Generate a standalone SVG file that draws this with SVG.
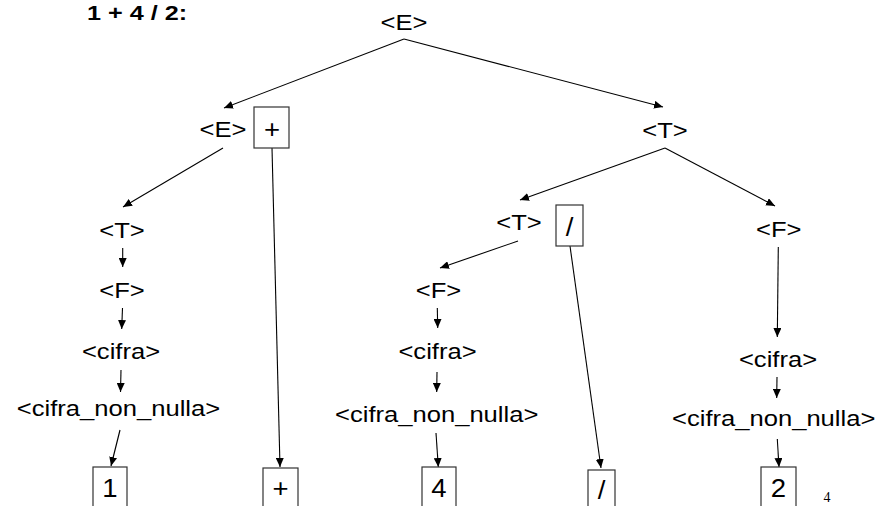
<svg xmlns="http://www.w3.org/2000/svg" width="879" height="506" viewBox="0 0 879 506">
<style>
.l{font-family:"Liberation Sans",Arial,sans-serif;font-size:21.5px;fill:#000;text-anchor:middle}
.b{font-family:"Liberation Sans",Arial,sans-serif;font-size:25px;fill:#000;text-anchor:middle}
.t{font-family:"Liberation Sans",Arial,sans-serif;font-size:21px;font-weight:bold;fill:#000}
.n{font-family:"Liberation Serif","Times New Roman",serif;font-size:14px;fill:#000;text-anchor:middle}
.box{fill:none;stroke:#333;stroke-width:1.2}
.c line{stroke:#000;stroke-width:1.1;marker-end:url(#ah)}
</style>
<defs>
<marker id="ah" markerUnits="userSpaceOnUse" markerWidth="10" markerHeight="8" refX="9" refY="4" orient="auto">
<path d="M0,0 L9,4 L0,8 Z" fill="#000"/>
</marker>
</defs>
<rect width="879" height="506" fill="#fff"/>
<text class="t" transform="translate(87,20) scale(1.2 1)">1 + 4 / 2:</text>
<g class="c" id="connectors">
<line x1="404" y1="39" x2="224" y2="108"/>
<line x1="404" y1="39" x2="663" y2="107"/>
<line x1="223" y1="148" x2="123" y2="207"/>
<line x1="272" y1="148" x2="280" y2="467"/>
<line x1="122.7" y1="248" x2="122.7" y2="267"/>
<line x1="122.5" y1="308" x2="121.7" y2="329"/>
<line x1="121" y1="370" x2="120.5" y2="392"/>
<line x1="120" y1="430" x2="111" y2="466"/>
<line x1="665" y1="148" x2="520" y2="200"/>
<line x1="665" y1="148" x2="775" y2="206"/>
<line x1="518" y1="241" x2="440" y2="268"/>
<line x1="570" y1="246" x2="601" y2="468"/>
<line x1="437.3" y1="308" x2="437.7" y2="328"/>
<line x1="437" y1="372" x2="436.7" y2="392"/>
<line x1="436" y1="433" x2="438.3" y2="467"/>
<line x1="778.3" y1="247" x2="777.3" y2="337"/>
<line x1="777" y1="377" x2="776.7" y2="398"/>
<line x1="777.3" y1="439" x2="779" y2="467"/>
</g>
<g id="E_root"><text class="l" transform="translate(404,29.5) scale(1.19 1)">&lt;E&gt;</text></g>
<g id="E_left"><text class="l" transform="translate(223,137) scale(1.19 1)">&lt;E&gt;</text></g>
<g id="plus_top"><rect class="box" x="254" y="107" width="35" height="41"/><text class="b" transform="translate(272,138) scale(1.1 1)">+</text></g>
<g id="T_right"><text class="l" transform="translate(665,137.5) scale(1.19 1)">&lt;T&gt;</text></g>
<g id="T_left"><text class="l" transform="translate(122,238) scale(1.19 1)">&lt;T&gt;</text></g>
<g id="F_left"><text class="l" transform="translate(122,298) scale(1.19 1)">&lt;F&gt;</text></g>
<g id="cifra_left"><text class="l" transform="translate(121,359) scale(1.19 1)">&lt;cifra&gt;</text></g>
<g id="cnn_left"><text class="l" transform="translate(118.5,416) scale(1.19 1)">&lt;cifra_non_nulla&gt;</text></g>
<g id="one"><rect class="box" x="93" y="467" width="34" height="50"/><text class="b" transform="translate(110,497) scale(1.1 1)">1</text></g>
<g id="plus_leaf"><rect class="box" x="263" y="468" width="35" height="50"/><text class="b" transform="translate(280.5,497) scale(1.1 1)">+</text></g>
<g id="T_mid"><text class="l" transform="translate(519,230) scale(1.19 1)">&lt;T&gt;</text></g>
<g id="slash_top"><rect class="box" x="556" y="205" width="27" height="41"/><text class="b" transform="translate(569.5,236) scale(1.1 1)">/</text></g>
<g id="F_mid"><text class="l" transform="translate(438.5,297.5) scale(1.19 1)">&lt;F&gt;</text></g>
<g id="cifra_mid"><text class="l" transform="translate(437.5,359) scale(1.19 1)">&lt;cifra&gt;</text></g>
<g id="cnn_mid"><text class="l" transform="translate(436.7,422) scale(1.19 1)">&lt;cifra_non_nulla&gt;</text></g>
<g id="four"><rect class="box" x="422" y="467" width="34" height="50"/><text class="b" transform="translate(439,497) scale(1.1 1)">4</text></g>
<g id="slash_leaf"><rect class="box" x="588" y="470" width="27" height="50"/><text class="b" transform="translate(601.5,499) scale(1.1 1)">/</text></g>
<g id="F_right"><text class="l" transform="translate(778.7,236.7) scale(1.19 1)">&lt;F&gt;</text></g>
<g id="cifra_right"><text class="l" transform="translate(778,366.5) scale(1.19 1)">&lt;cifra&gt;</text></g>
<g id="cnn_right"><text class="l" transform="translate(773.7,426) scale(1.19 1)">&lt;cifra_non_nulla&gt;</text></g>
<g id="two"><rect class="box" x="761" y="467" width="35" height="50"/><text class="b" transform="translate(778.5,497) scale(1.1 1)">2</text></g>
<text class="n" x="827" y="502">4</text>
</svg>
